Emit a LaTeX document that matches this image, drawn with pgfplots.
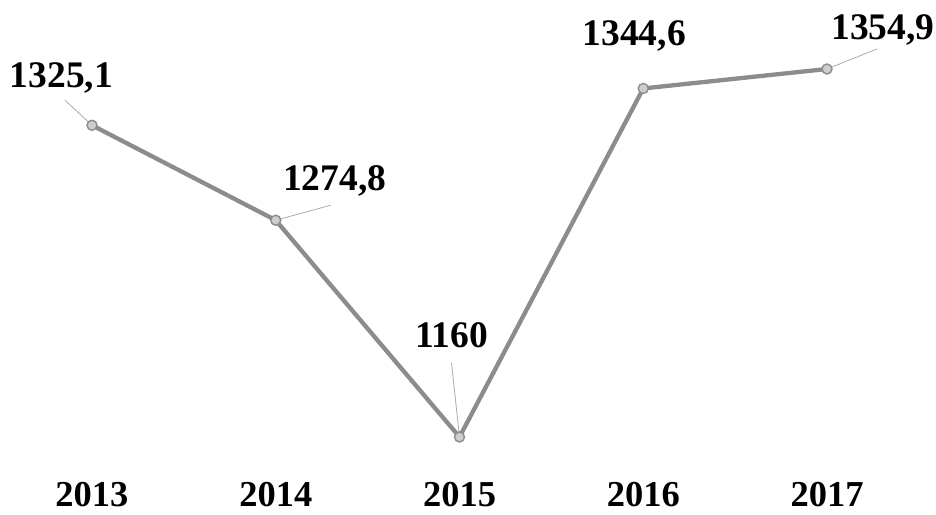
\documentclass[border=0pt]{standalone}
\usepackage{fontspec}
\setmainfont{Liberation Serif}
\usepackage{pgfplots}
\pgfplotsset{compat=1.18}
\definecolor{linegray}{RGB}{140,140,140}
\definecolor{markgray}{RGB}{205,205,205}
\definecolor{leadgray}{RGB}{170,170,170}
\tikzset{dlab/.style={anchor=base, inner sep=0pt, text depth=0pt, font=\fontsize{37.5}{42}\selectfont\bfseries}}
\begin{document}
\begin{tikzpicture}
\path[use as bounding box] (-92pt,-77pt) rectangle (844pt,437pt);
\begin{axis}[
  scale only axis,
  width=735pt, height=368pt,
  xmin=2013, xmax=2017,
  ymin=1160, ymax=1354.9,
  clip=false,
  axis line style={draw=none},
  major tick length=0pt,
  ytick=\empty,
  xtick={2013,2014,2015,2016,2017},
  xticklabels={\textbf{2013},\textbf{2014},\textbf{2015},\textbf{2016},\textbf{2017}},
  xticklabel style={font=\fontsize{36.5}{42}\selectfont, anchor=base, yshift=-69pt, inner sep=0pt, text depth=0pt},
]
\addplot[linegray, line width=4.3pt, mark=*, mark size=5pt,
  mark options={fill=markgray, draw=linegray, line width=1.4pt}]
  coordinates {(2013,1325.1) (2014,1274.8) (2015,1160) (2016,1344.6) (2017,1354.9)};
\draw[leadgray, line width=0.8pt] (axis cs:2013,1325.1) -- ++(-27pt,25pt);
\draw[leadgray, line width=0.8pt] (axis cs:2014,1274.8) -- ++(55pt,15pt);
\draw[leadgray, line width=0.8pt] (axis cs:2015,1160) -- ++(-8pt,74pt);
\draw[leadgray, line width=0.8pt] (axis cs:2017,1354.9) -- ++(50pt,20pt);
\node[dlab, xshift=-30.5pt, yshift=38pt] at (axis cs:2013,1325.1) {1325,1};
\node[dlab, xshift=59pt, yshift=29.5pt] at (axis cs:2014,1274.8) {1274,8};
\node[dlab, xshift=-8pt, yshift=90pt] at (axis cs:2015,1160) {1160};
\node[dlab, xshift=-9pt, yshift=43pt] at (axis cs:2016,1344.6) {1344,6};
\node[dlab, xshift=56pt, yshift=29pt] at (axis cs:2017,1354.9) {1354,9};
\end{axis}
\end{tikzpicture}
\end{document}
